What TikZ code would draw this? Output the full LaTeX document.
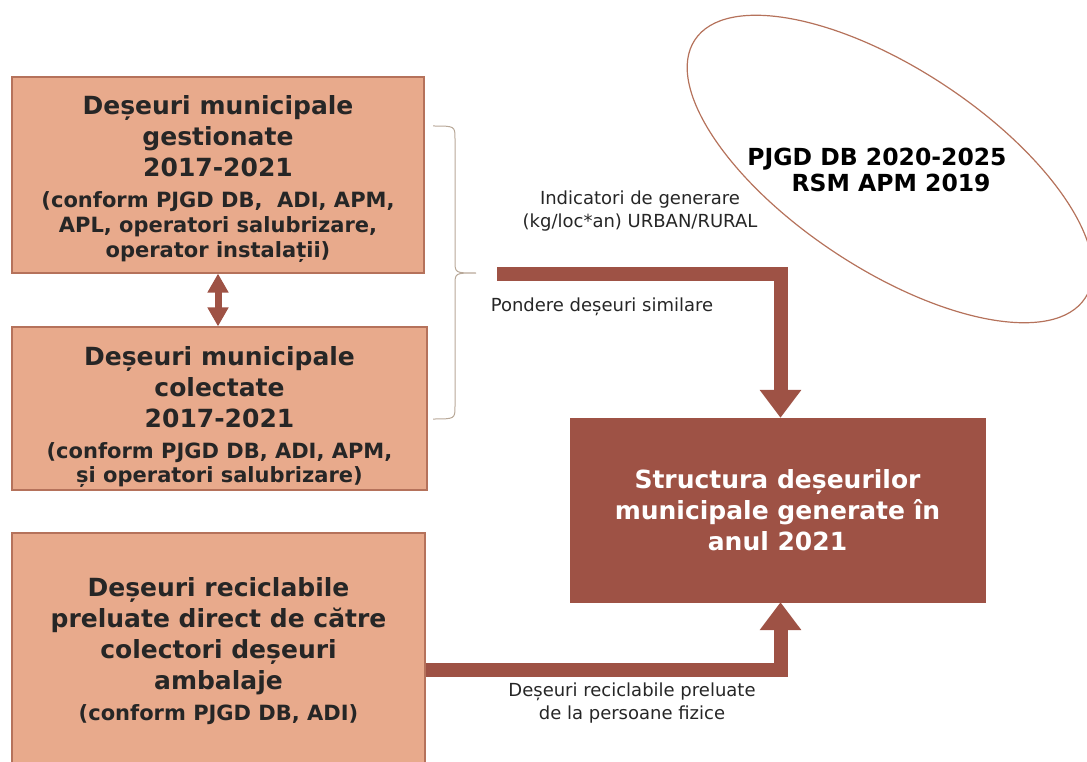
\documentclass[tikz,border=0pt]{standalone}
\usepackage{fontspec}
\setmainfont{DejaVu Sans}
\usetikzlibrary{arrows.meta, positioning, shapes.geometric}

\definecolor{boxsalmon}{HTML}{E8AA8C}
\definecolor{boxedge}{HTML}{B5725B}
\definecolor{brick}{HTML}{9E5245}
\definecolor{bracegray}{HTML}{B8A898}
\definecolor{inktext}{HTML}{262626}

\newcommand\hdfont{\bfseries\fontsize{25}{31}\selectfont}
\newcommand\subfont{\bfseries\fontsize{21}{25}\selectfont}
\newcommand\refont{\bfseries\fontsize{23.5}{26}\selectfont}
\newcommand\lblfont{\fontsize{18}{23}\selectfont}

\begin{document}
\begin{tikzpicture}[
    x=1pt, y=-1pt,
    srcbox/.style={draw=boxedge, fill=boxsalmon, line width=1.2pt, align=center, text=inktext, inner sep=0pt, font=\hdfont},
    outbox/.style={draw=brick, fill=brick, align=center, text=white, inner sep=0pt, minimum width=415pt, minimum height=184pt, font=\hdfont},
    reftext/.style={align=center, text=black, font=\refont, inner sep=0pt},
    flowlabel/.style={align=center, text=black!85, font=\lblfont, inner sep=0pt},
    fatarrow/.style={draw=brick, line width=14pt, line join=miter, -{Triangle[width=40pt, length=28pt]}},
    linkarrow/.style={draw=brick, line width=7pt, {Triangle[width=20pt, length=19pt]}-{Triangle[width=20pt, length=19pt]}},
    bracket/.style={draw=bracegray, line width=1pt},
    ringline/.style={draw=boxedge, line width=1.2pt}
  ]
    \useasboundingbox (0,0) rectangle (1087,762);

    % Source boxes on the left
    \node[srcbox, minimum width=412pt, minimum height=196pt] (gest) at (218,175)
      {\rule{0pt}{28pt}Deșeuri municipale\\gestionate\\2017-2021\\\subfont (conform PJGD DB,~ ADI, APM,\\[-6pt]\subfont APL, operatori salubrizare,\\[-6pt]\subfont operator instalații)};
    \node[srcbox, minimum width=415pt, minimum height=163pt] (colect) at (219.5,408.5)
      {\rule{0pt}{36pt}Deșeuri municipale\\colectate\\2017-2021\\\subfont (conform PJGD DB, ADI, APM,\\[-7pt]\subfont și operatori salubrizare)};
    \node[srcbox, minimum width=413pt, minimum height=237pt] (recicl) at (218.5,651.5)
      {Deșeuri reciclabile\\preluate direct de către\\colectori deșeuri\\ambalaje\\\subfont (conform PJGD DB, ADI)};

    % Result box
    \node[outbox] (struct) at (777.5,510) {Structura deșeurilor\\municipale generate în\\anul 2021};

    % Reference documents
    \node[reftext] (plan) at (877,170) {PJGD DB 2020-2025\\\hspace{1.2em}RSM APM 2019};
    \draw[ringline, rotate around={-33.5:(890,169)}] (890,169) ellipse [x radius=234pt, y radius=100pt];

    % Brace over the two upper boxes
    \coordinate (bracetip) at (476,273);
    \coordinate (upstart) at (497,274);
    \draw[bracket] (433,126) .. controls (455,126) .. (455,139) -- (455,261)
      .. controls (455,273) .. (bracetip) .. controls (455,273) .. (455,285)
      -- (455,406) .. controls (455,419) .. (433,419);

    % Connectors
    \draw[linkarrow] (gest.south) -- (gest.south |- colect.north);
    \draw[fatarrow] (upstart) -| ([xshift=3pt]struct.north);
    \draw[fatarrow] ([yshift=-18.5pt]recicl.east) -| ([xshift=3pt]struct.south);

    % Flow labels
    \node[flowlabel] (indic) at (640,211) {Indicatori de generare\\(kg/loc*an) URBAN/RURAL};
    \node[flowlabel] (pond) at (602,307) {Pondere deșeuri similare};
    \node[flowlabel] (pers) at (632,703) {Deșeuri reciclabile preluate\\de la persoane fizice};
  \end{tikzpicture}
\end{document}
